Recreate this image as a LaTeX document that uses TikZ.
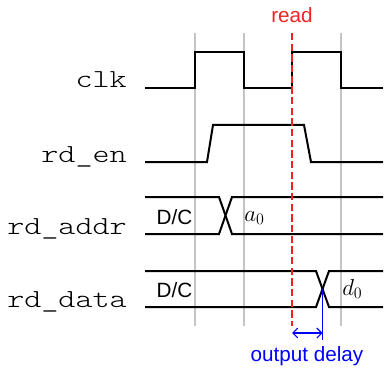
\documentclass[tikz,border=0pt]{standalone}
\usepackage{fontspec}
\setmainfont{Liberation Sans}
\setmonofont{lmmonolt10-regular.otf}
\usepackage{xcolor}
\usepackage{tikz}
\usetikzlibrary{arrows.meta}
\definecolor{cSig}{HTML}{000000}
\definecolor{cGrid}{HTML}{C4C4C4}
\definecolor{cRead}{HTML}{EE2424}
\definecolor{cDly}{HTML}{0000FF}
\newcommand{\signame}[1]{\scalebox{1.25}[1]{\ttfamily #1}}
\tikzset{
  sig/.style    = {draw=cSig, line width=1.5pt, line join=miter},
  gridln/.style = {draw=cGrid, line width=0.9pt},
  rdln/.style   = {draw=cRead, line width=2.1pt, dash pattern=on 5.5pt off 2.5pt},
  dly/.style    = {draw=cDly, line width=0.8pt},
  dlyarr/.style = {dly, {Straight Barb[length=1.3mm]}-{Straight Barb[length=1.3mm]}},
  sname/.style  = {anchor=base east, inner sep=0pt,
                   font=\fontsize{19.5}{19.5}\selectfont},
  vlab/.style   = {anchor=base, inner sep=0pt, font=\fontsize{15.5}{15.5}\selectfont},
  mlab/.style   = {anchor=base west, inner sep=0pt, font=\fontsize{17}{17}\selectfont},
}

\begin{document}
\begin{tikzpicture}[x=0.75pt, y=-0.75pt]
  \useasboundingbox (0,0) rectangle (384,370);

  % clock edges
  \foreach \gx in {195,244,341}
    \draw[gridln] (\gx,33) -- (\gx,326);

  % signal names
  \node[sname] (clk)  at (127,88)  {\signame{clk}};
  \node[sname] (rden) at (127,162) {\signame{rd\_en}};
  \node[sname] (addr) at (127,234) {\signame{rd\_addr}};
  \node[sname] (data) at (127,307) {\signame{rd\_data}};

  % waveforms
  \draw[sig] (145,88) -- (195,88) -- (195,52) -- (244,52) -- (244,88)
             -- (292,88) -- (292,52) -- (341,52) -- (341,88) -- (383,88);
  \draw[sig] (145,162) -- (207,162) -- (213,125) -- (304,125) -- (311,162) -- (383,162);
  \draw[sig] (145,197) -- (219,197) -- (232,234) -- (383,234);
  \draw[sig] (145,234) -- (219,234) -- (232,197) -- (383,197);
  \draw[sig] (145,271) -- (316,271) -- (329,307) -- (383,307);
  \draw[sig] (145,307) -- (316,307) -- (329,271) -- (383,271);

  \node[vlab] (dca) at (174.5,224) {D/C};
  \node[mlab] (a0)  at (244,221)   {$a_0$};
  \node[vlab] (dcd) at (174.5,297) {D/C};
  \node[mlab] (d0)  at (342,295)   {$d_0$};

  % read instant
  \node[vlab, text=cRead] (read) at (292,23) {read};
  \coordinate (rdtop) at (292,33);
  \coordinate (rdbot) at (292,326);
  \draw[rdln] (rdtop) -- (rdbot);

  % output delay
  \coordinate (xdat) at (322.5,289);
  \coordinate (xbot) at (322.5,340);
  \coordinate (dlft) at (292,333);
  \draw[dly] (xdat) -- (xbot);
  \draw[dlyarr] (dlft) -- (dlft -| xdat);
  \node[vlab, text=cDly] (delay) at (307,361) {output delay};
\end{tikzpicture}
\end{document}
